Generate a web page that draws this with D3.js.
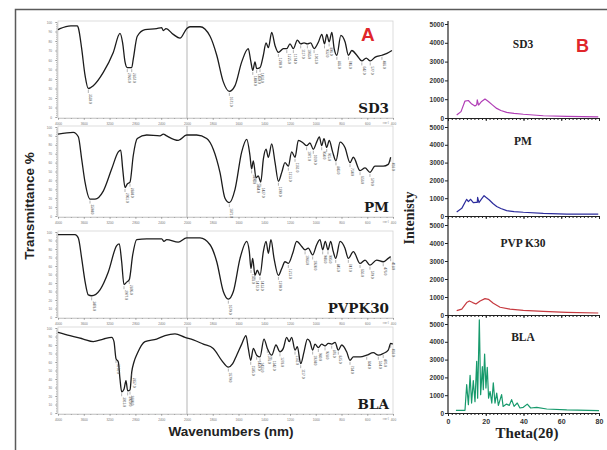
<!DOCTYPE html>
<html>
<head>
<meta charset="utf-8">
<script src="https://cdnjs.cloudflare.com/ajax/libs/d3/7.8.5/d3.min.js"></script>
<style>
    body { margin: 0; background: #fff; }
    svg { display: block; }
</style>
</head>
<body>
<svg id="chart" width="607" height="450"></svg>
<script>
// FTIR spectra, [wavenumber, transmittance %]
var ftirSD3 = [[4000,92],[3969,93],[3800,96],[3700,96],[3685,94],[3633,72],[3581,44],[3530,30],[3453,33],[3298,47],[3143,68],[3039,88],[2998,78],[2961,58],[2926,52],[2857,52],[2833,61],[2771,85],[2651,92],[2471,93],[2393,94],[2367,91],[2326,93],[2213,87],[2109,83],[2005,93],[1977,95],[1899,95],[1821,85],[1769,65],[1718,37],[1671,27],[1627,33],[1575,58],[1524,72],[1505,59],[1489,49],[1472,58],[1459,51],[1433,52],[1407,65],[1386,78],[1368,73],[1342,89],[1316,75],[1290,68],[1251,72],[1225,72],[1200,77],[1174,72],[1143,81],[1117,77],[1091,78],[1065,77],[1039,78],[1013,72],[979,79],[953,87],[932,77],[914,87],[896,79],[875,89],[857,72],[836,65],[805,86],[772,79],[746,65],[720,70],[681,65],[642,59],[608,62],[577,59],[538,63],[486,65],[447,67],[408,70]];
var ftirPM = [[4000,92],[3763,94],[3685,89],[3633,64],[3581,38],[3504,19],[3426,19],[3298,28],[3167,53],[3065,72],[3028,74],[2997,53],[2961,32],[2926,36],[2884,38],[2833,68],[2771,87],[2625,91],[2419,90],[2367,92],[2315,90],[2135,85],[2005,91],[1925,91],[1847,87],[1796,75],[1744,49],[1705,20],[1671,15],[1627,30],[1575,72],[1536,86],[1511,68],[1498,53],[1485,62],[1464,43],[1446,45],[1427,38],[1407,64],[1386,75],[1368,66],[1342,81],[1316,60],[1290,39],[1264,49],[1239,60],[1213,56],[1187,72],[1161,66],[1135,85],[1097,82],[1071,79],[1045,82],[1019,75],[993,83],[972,89],[954,79],[936,87],[915,77],[895,85],[869,72],[843,62],[811,83],[773,77],[734,60],[708,66],[656,51],[617,54],[579,49],[540,56],[476,56],[437,58],[418,66]];
var ftirPVP = [[4000,97],[3736,97],[3685,93],[3633,69],[3581,42],[3530,26],[3478,25],[3349,32],[3220,53],[3090,84],[3050,86],[3013,65],[2977,38],[2936,41],[2895,44],[2842,73],[2780,91],[2625,92],[2392,92],[2357,89],[2315,91],[2135,88],[2005,93],[1899,93],[1821,85],[1769,65],[1718,30],[1679,21],[1640,30],[1588,69],[1536,89],[1516,77],[1503,57],[1490,69],[1472,49],[1454,55],[1433,49],[1407,77],[1386,89],[1368,75],[1348,91],[1324,69],[1290,49],[1264,57],[1239,65],[1213,63],[1179,75],[1148,89],[1109,83],[1083,79],[1058,81],[1024,73],[993,85],[967,91],[946,79],[926,89],[905,79],[884,89],[864,77],[845,69],[811,89],[773,81],[747,69],[708,77],[656,63],[617,67],[579,61],[527,67],[476,65],[437,69],[418,71]];
var ftirBLA = [[4000,95],[3814,91],[3608,87],[3453,84],[3298,87],[3167,89],[3132,84],[3101,64],[3065,60],[3039,40],[3013,25],[2977,28],[2946,38],[2920,26],[2884,27],[2857,48],[2822,60],[2771,70],[2651,84],[2471,87],[2341,91],[2186,93],[2031,89],[1951,86],[1873,81],[1796,76],[1731,62],[1679,54],[1645,58],[1614,68],[1575,81],[1542,91],[1524,76],[1505,62],[1485,76],[1459,68],[1433,66],[1402,87],[1376,76],[1342,68],[1309,80],[1278,72],[1252,76],[1226,89],[1206,84],[1187,89],[1161,74],[1143,78],[1117,58],[1091,72],[1065,87],[1045,84],[1024,74],[1006,81],[980,77],[954,81],[928,79],[902,82],[876,81],[850,83],[825,74],[798,80],[760,72],[734,62],[708,66],[656,66],[604,68],[553,71],[514,68],[476,70],[437,74],[418,82],[402,81]];

// labelled bands (wavenumbers)
var peaksSD3 = [3530, 2926, 2857, 1671, 1489, 1459, 1433, 1290, 1225, 1174, 1117, 1065, 1013, 932, 896, 836, 746, 642, 577, 486];
var peaksPM = [3504, 2961, 2884, 1671, 1498, 1464, 1427, 1290, 1213, 1161, 1071, 1019, 954, 915, 843, 734, 656, 579, 418];
var peaksPVP = [3478, 2977, 2895, 1679, 1503, 1472, 1433, 1290, 1213, 1083, 1024, 946, 905, 845, 747, 656, 579, 476, 418];
var peaksBLA = [3101, 3013, 2920, 2884, 2857, 1679, 1505, 1459, 1433, 1376, 1342, 1278, 1161, 1117, 1024, 980, 928, 876, 825, 734, 604, 514, 476, 418];

var ftirNames = ["SD3", "PM", "PVPK30", "BLA"];
var ftirTicks = [4000, 3600, 3200, 2800, 2400, 2000, 1800, 1600, 1400, 1200, 1000, 800, 600, 400];

// XRD patterns, [2theta, intensity]
var xrdSD3 = [[4.6,160],[6.9,340],[9,900],[10.8,930],[12.6,740],[14.3,640],[15.2,700],[15.5,960],[16.2,690],[17.8,880],[19.6,1010],[21.4,880],[23.5,700],[25.8,510],[28,400],[31.1,300],[35,250],[39.9,200],[50.5,120],[62.9,90],[79.6,60]];
var xrdPM = [[4.6,220],[7.3,430],[9.9,940],[10.8,810],[12,940],[13.4,750],[14.8,770],[15.5,760],[15.7,1050],[16.4,750],[17.8,960],[19.1,1140],[20.1,1050],[21.9,900],[23.8,700],[25.8,530],[28,420],[31.1,300],[35,250],[39.9,210],[50.5,150],[62.9,110],[79.6,100]];
var xrdPVP = [[4.6,240],[7.3,330],[9.9,690],[11.3,780],[13.1,690],[14.8,610],[17,780],[19.6,910],[21.4,870],[24,650],[27.6,430],[32.8,330],[39.9,260],[50.5,200],[62.9,150],[79.6,110]];
var xrdBLA = [[4.2,150],[9,150],[9.9,1590],[10.8,470],[11.7,2120],[12.5,560],[13.4,1820],[14.3,640],[15.2,2900],[15.7,830],[16.6,5240],[17.3,1030],[18.2,2600],[18.7,1310],[19.4,3310],[20.1,1400],[20.8,2570],[21.5,830],[22.3,1210],[23.2,560],[24,1690],[24.9,560],[25.8,1120],[26.7,430],[28.4,1030],[29.2,370],[31,500],[32.5,430],[33.7,750],[35,370],[36.7,560],[38.1,280],[39.9,320],[42,500],[43.8,280],[47,320],[52.3,225],[62.9,170],[80,130]];

var xrdNames = ["SD3", "PM", "PVP K30", "BLA"];
var xrdColors = ["#b13fb6", "#2c2c9c", "#c63a40", "#179a6c"];
var intensityTicks = [0, 1000, 2000, 3000, 4000, 5000];
var thetaTicks = [0, 20, 40, 60, 80];

var svg = d3.select("#chart");

// outer frame
svg.append("path")
    .attr("d", "M15.5,450V9.5H607")
    .attr("fill", "none")
    .attr("stroke", "#5a5a5a")
    .attr("stroke-width", 1.5);

// ---------- Panel A : FTIR ----------
var ftirData = [ftirSD3, ftirPM, ftirPVP, ftirBLA],
    ftirPeaks = [peaksSD3, peaksPM, peaksPVP, peaksBLA],
    ftirBoxes = [[21, 118], [126, 217], [231, 318], [327, 414]];

var xW = d3.scaleLinear().domain([4000, 2000, 400]).range([58, 187, 393]);

ftirData.forEach(function (data, i) {
    var top = ftirBoxes[i][0], bottom = ftirBoxes[i][1];
    var yT = d3.scaleLinear().domain([0, 100]).range([bottom - 1, top + 1]);
    var g = svg.append("g");

    g.append("rect")
        .attr("x", xW(4000)).attr("y", top)
        .attr("width", xW(400) - xW(4000)).attr("height", bottom - top)
        .attr("fill", "none").attr("stroke", "#d4d4d4").attr("stroke-width", 0.8);

    // scale break at 2000
    g.append("line")
        .attr("x1", xW(2000)).attr("x2", xW(2000))
        .attr("y1", top).attr("y2", bottom)
        .attr("stroke", "#b5b5b5").attr("stroke-width", 1);

    var yAxis = g.append("g")
        .attr("transform", "translate(" + (xW(4000) - 1) + ",0)")
        .call(d3.axisLeft(yT).ticks(10).tickSize(2).tickSizeOuter(0).tickFormat(d3.format("d")));
    var xAxis = g.append("g")
        .attr("transform", "translate(0," + bottom + ")")
        .call(d3.axisBottom(xW).tickValues(ftirTicks).tickSize(2).tickSizeOuter(0).tickFormat(d3.format("d")));
    // minor ticks
    g.append("g")
        .attr("transform", "translate(0," + bottom + ")")
        .call(d3.axisBottom(xW).tickValues(d3.range(4000, 2000, -100).concat(d3.range(2000, 399, -50))).tickSize(1).tickFormat(""));
    g.append("g")
        .attr("transform", "translate(" + (xW(4000) - 1) + ",0)")
        .call(d3.axisLeft(yT).tickValues(d3.range(0, 101, 2)).tickSize(1).tickFormat(""));

    g.selectAll(".domain").attr("stroke", "#c8c8c8").attr("stroke-width", 0.6);
    g.selectAll(".tick line").attr("stroke", "#777").attr("stroke-width", 0.5);
    [yAxis, xAxis].forEach(function (ax) {
        ax.selectAll("text").attr("font-size", 3.2).attr("fill", "#777").attr("font-family", "Arial, sans-serif");
    });

    g.append("text")
        .attr("x", xW(400) - 4).attr("y", bottom + 6)
        .attr("font-size", 3).attr("fill", "#888").attr("text-anchor", "end")
        .text("cm-1");

    var line = d3.line()
        .x(function (d) { return xW(d[0]); })
        .y(function (d) { return yT(d[1]); })
        .curve(d3.curveMonotoneX);

    g.append("path")
        .datum(data)
        .attr("d", line)
        .attr("fill", "none")
        .attr("stroke", "#1c1c1c")
        .attr("stroke-width", 1.3)
        .attr("stroke-linejoin", "round");

    // band annotations
    ftirPeaks[i].forEach(function (wn) {
        var p = data.find(function (d) { return d[0] === wn; });
        if (!p) return;
        var px = xW(p[0]), py = yT(p[1]);
        g.append("line")
            .attr("x1", px).attr("x2", px)
            .attr("y1", py + 1.5).attr("y2", py + 4.5)
            .attr("stroke", "#666").attr("stroke-width", 0.5);
        g.append("text")
            .attr("transform", "translate(" + (px + 1) + "," + (py + 5.5) + ") rotate(90)")
            .attr("font-size", 3.2).attr("fill", "#555")
            .attr("font-family", "Arial, sans-serif")
            .text(p[0] + ".0");
    });

    g.append("text")
        .attr("x", 389).attr("y", bottom - 5)
        .attr("text-anchor", "end")
        .attr("font-family", "'DejaVu Serif', serif")
        .attr("font-weight", "bold")
        .attr("font-size", 13.5)
        .attr("fill", "#1a1a1a")
        .text(ftirNames[i]);
});

svg.append("text")
    .attr("x", 361).attr("y", 41)
    .attr("font-family", "'Liberation Sans', Arial, sans-serif")
    .attr("font-weight", "bold")
    .attr("font-size", 19)
    .attr("fill", "#e0262b")
    .text("A");

svg.append("text")
    .attr("x", 231).attr("y", 436)
    .attr("text-anchor", "middle")
    .attr("font-family", "'Liberation Sans', Arial, sans-serif")
    .attr("font-weight", "bold")
    .attr("font-size", 13.5)
    .attr("fill", "#222")
    .text("Wavenumbers (nm)");

svg.append("text")
    .attr("transform", "translate(34,206) rotate(-90)")
    .attr("text-anchor", "middle")
    .attr("font-family", "'Liberation Sans', Arial, sans-serif")
    .attr("font-weight", "bold")
    .attr("font-size", 13.5)
    .attr("fill", "#222")
    .text("Transmittance %");

// ---------- Panel B : XRD ----------
var xrdData = [xrdSD3, xrdPM, xrdPVP, xrdBLA],
    xrdBoxes = [[118, 24], [216, 127], [315, 225], [413, 324]],
    titleY = [48, 145, 247, 341];

var xT = d3.scaleLinear().domain([0, 80]).range([448, 599]);

svg.append("line")
    .attr("x1", 448).attr("x2", 448)
    .attr("y1", 21).attr("y2", 413)
    .attr("stroke", "#222").attr("stroke-width", 1.2);

xrdData.forEach(function (data, i) {
    var yI = d3.scaleLinear().domain([0, 5000]).range(xrdBoxes[i]);
    var g = svg.append("g");

    var ya = g.append("g")
        .attr("transform", "translate(448,0)")
        .call(d3.axisLeft(yI).tickValues(intensityTicks).tickSize(3).tickSizeOuter(0).tickFormat(d3.format("d")));
    ya.select(".domain").remove();
    ya.selectAll("text")
        .attr("font-size", 6.5).attr("font-weight", "bold")
        .attr("font-family", "Arial, sans-serif").attr("fill", "#333")
        .attr("x", -4);

    var xa = g.append("g")
        .attr("transform", "translate(0," + yI(0) + ")")
        .call(d3.axisBottom(xT).tickValues(thetaTicks).tickSize(3).tickSizeOuter(0)
            .tickFormat(i === 3 ? d3.format("d") : ""));
    xa.selectAll("text")
        .attr("font-size", 7).attr("font-weight", "bold")
        .attr("font-family", "Arial, sans-serif").attr("fill", "#333");
    g.append("g")
        .attr("transform", "translate(0," + yI(0) + ")")
        .call(d3.axisBottom(xT).tickValues(d3.range(0, 81, 2)).tickSize(2).tickFormat(""))
        .select(".domain").remove();
    g.selectAll(".domain, .tick line").attr("stroke", "#222").attr("stroke-width", 1);
    xa.select(".domain").attr("stroke-width", 1.2);

    g.append("path")
        .datum(data)
        .attr("d", d3.line()
            .x(function (d) { return xT(d[0]); })
            .y(function (d) { return yI(d[1]); }))
        .attr("fill", "none")
        .attr("stroke", xrdColors[i])
        .attr("stroke-width", 1.2)
        .attr("stroke-linejoin", "round");

    g.append("text")
        .attr("x", 523).attr("y", titleY[i])
        .attr("text-anchor", "middle")
        .attr("font-family", "'Liberation Serif', 'Times New Roman', serif")
        .attr("font-weight", "bold")
        .attr("font-size", 11.5)
        .attr("fill", "#222")
        .text(xrdNames[i]);
});

svg.append("text")
    .attr("x", 576).attr("y", 52)
    .attr("font-family", "'Liberation Sans', Arial, sans-serif")
    .attr("font-weight", "bold")
    .attr("font-size", 18)
    .attr("fill", "#e0262b")
    .text("B");

svg.append("text")
    .attr("x", 527).attr("y", 438)
    .attr("text-anchor", "middle")
    .attr("font-family", "'Liberation Serif', 'Times New Roman', serif")
    .attr("font-weight", "bold")
    .attr("font-size", 15)
    .attr("fill", "#222")
    .text("Theta(2\u03b8)");

svg.append("text")
    .attr("transform", "translate(414,218) rotate(-90)")
    .attr("text-anchor", "middle")
    .attr("font-family", "'Liberation Serif', 'Times New Roman', serif")
    .attr("font-weight", "bold")
    .attr("font-size", 14)
    .attr("fill", "#222")
    .text("Intenisty");
</script>
</body>
</html>
